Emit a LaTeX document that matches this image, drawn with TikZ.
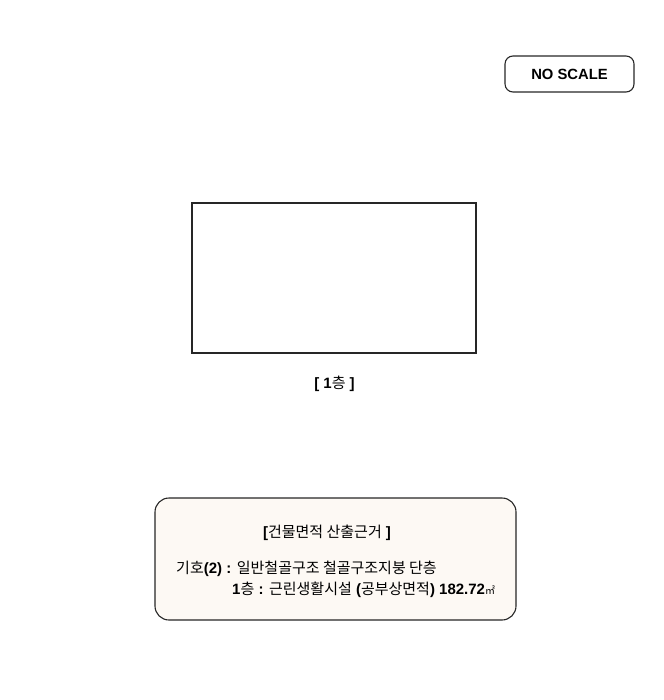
\documentclass[tikz,border=0pt]{standalone}
\usepackage{fontspec}
\setmainfont{Liberation Sans}
\newfontfamily\kr{Noto Sans CJK KR}
\definecolor{notefill}{RGB}{253,249,244}
\begin{document}
\begin{tikzpicture}[x=1pt,y=-1pt,
  frame/.style={draw=black!85,line width=1.1pt},
  txt/.style={inner sep=0pt,font=\fontsize{15}{17}\selectfont}]
\useasboundingbox (0,0) rectangle (663,700);
\node[frame,rounded corners=8pt,minimum width=129pt,minimum height=36pt,inner sep=0pt,
  font=\fontsize{14.8}{16}\selectfont\bfseries] (ns) at (569.5,74) {NO SCALE};
\node[frame,line width=1.2pt,minimum width=284pt,minimum height=150pt,inner sep=0pt] (plan) at (334,278) {};
\node[txt] (lbl) at (334.5,384) {\textbf{[ 1}{\kr 층}\textbf{ ]}};
\node[frame,fill=notefill,rounded corners=14pt,minimum width=361pt,minimum height=122pt,inner sep=0pt] (note) at (335.5,559) {};
\node[txt] (t1) at (327,532.5) {\textbf{[}{\kr 건물면적 산출근거}\textbf{ ]}};
\node[txt,anchor=west] (t2) at (176,569) {{\kr 기호}\textbf{(2) :} {\kr 일반철골구조 철골구조지붕 단층}};
\node[txt,anchor=west] (t3) at (232,590) {\textbf{1}{\kr 층}\textbf{ :} {\kr 근린생활시설} \textbf{(}{\kr 공부상면적}\textbf{) 182.72}{\kr\fontsize{10}{11}\selectfont ㎡}};
\end{tikzpicture}
\end{document}
